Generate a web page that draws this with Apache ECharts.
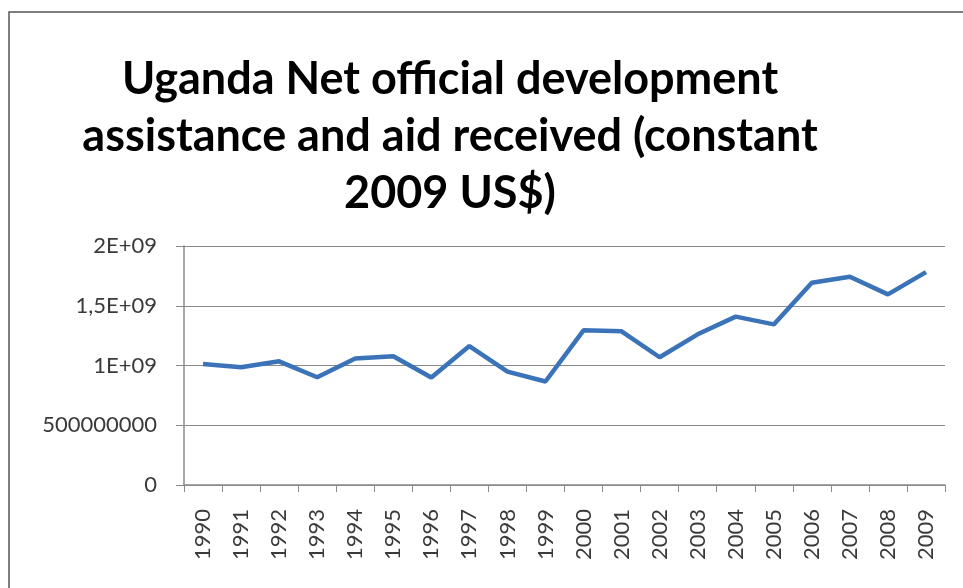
<!DOCTYPE html>
<html>
<head>
<meta charset="utf-8">
<script src="https://cdn.jsdelivr.net/npm/echarts@6/dist/echarts.min.js"></script>
<style>
html,body{margin:0;padding:0;background:#fff;}
#c{width:963px;height:588px;}
</style>
</head>
<body>
<div id="c"></div>
<script>
const years = ['1990','1991','1992','1993','1994','1995','1996','1997','1998','1999','2000','2001','2002','2003','2004','2005','2006','2007','2008','2009'];
const aid = [1013000000, 985000000, 1035000000, 902000000, 1058000000, 1077000000, 899000000, 1163000000, 949000000, 866000000, 1294000000, 1286000000, 1069000000, 1261000000, 1409000000, 1344000000, 1693000000, 1743000000, 1595000000, 1781000000];
const yTickLabels = {0:'0', 500000000:'500000000', 1000000000:'1E+09', 1500000000:'1,5E+09', 2000000000:'2E+09'};
const titleText = 'Uganda Net official development\nassistance and aid received (constant\n2009 US$)';

const chart = echarts.init(document.getElementById('c'), null, {renderer:'canvas'});
chart.setOption({
  backgroundColor:'#fff',
  animation:false,
  title:{
    text:titleText,
    left:445, top:46, textAlign:'center',
    textStyle:{fontFamily:'Lato', fontWeight:'bold', fontSize:45, lineHeight:57, color:'#000'}
  },
  graphic:[{
    type:'rect', shape:{x:9, y:12, width:970, height:600},
    style:{fill:'none', stroke:'#555', lineWidth:1.5}, silent:true
  }],
  grid:{left:184, right:18, top:246, bottom:103, containLabel:false},
  xAxis:{
    type:'category', data:years, boundaryGap:true,
    axisLine:{lineStyle:{color:'#8a8a8a', width:1.5}},
    axisTick:{show:true, alignWithLabel:false, length:7, lineStyle:{color:'#8a8a8a'}},
    axisLabel:{rotate:90, margin:24, fontFamily:'Lato', fontSize:22, color:'#3a3a3a', interval:0}
  },
  yAxis:{
    type:'value', min:0, max:2000000000, interval:500000000,
    axisLine:{show:true, lineStyle:{color:'#8a8a8a', width:1.5}},
    axisTick:{show:true, length:8, lineStyle:{color:'#8a8a8a'}},
    splitLine:{lineStyle:{color:'#8a8a8a', width:1.2}},
    axisLabel:{margin:27, fontFamily:'Lato', fontSize:22, color:'#3a3a3a',
      formatter:v=>yTickLabels[v] !== undefined ? yTickLabels[v] : String(v)}
  },
  series:[{
    type:'line', data:aid, symbol:'none',
    lineStyle:{color:'#3b73b9', width:4.5}
  }]
});
</script>
</body>
</html>
